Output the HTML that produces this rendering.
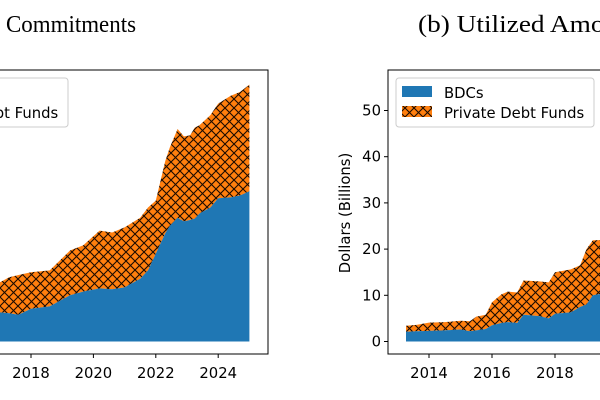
<!DOCTYPE html>
<html><head><meta charset="utf-8"><style>
html,body{margin:0;padding:0;background:#fff;}
svg{display:block;}
text{font-family:"DejaVu Sans","Liberation Sans",sans-serif;}
.title{font-family:"Liberation Serif",serif;font-size:24px;fill:#000;}
.tick{font-size:14.8px;fill:#000;}
</style></head><body>
<svg id="chart" width="600" height="400" viewBox="0 0 600 400" xmlns="http://www.w3.org/2000/svg">
<defs>
<pattern id="hatch" patternUnits="userSpaceOnUse" width="9" height="9">
<rect width="9" height="9" fill="#ff7f0e"/>
<path d="M0,0L9,9M9,0L0,9M-1,8L1,10M8,-1L10,1M-1,1L1,-1M8,10L10,8" stroke="#1a0a00" stroke-width="1.1"/>
</pattern>
<clipPath id="clipL"><rect x="0" y="70" width="268" height="284"/></clipPath>
<clipPath id="clipR"><rect x="388" y="70" width="212" height="284"/></clipPath>
</defs>
<text class="title" x="6" y="32" textLength="130" lengthAdjust="spacingAndGlyphs">Commitments</text>
<text class="title" x="418" y="32" textLength="232" lengthAdjust="spacingAndGlyphs">(b) Utilized Amounts</text>
<g id="left"></g>
<g id="right"></g>
</svg>
<script>
// Left panel: commitments
const leftYears = [2016.5, 2017.0, 2017.3, 2017.6, 2018.0, 2018.6, 2019.25, 2019.67, 2020.2, 2020.6, 2021.0, 2021.5, 2021.75, 2022.0, 2022.3, 2022.45, 2022.7, 2022.9, 2023.1, 2023.25, 2023.4, 2023.75, 2024.0, 2024.4, 2024.7, 2025.0];
const leftBDC = [6.5, 6.3, 6.1, 5.8, 7.1, 7.6, 10.0, 10.8, 11.5, 11.3, 11.7, 13.6, 15.4, 19.0, 23.4, 25.0, 26.8, 26.0, 26.3, 26.6, 27.7, 29.0, 31.0, 31.2, 31.6, 32.5];
const leftTotal = [12.0, 12.8, 13.9, 14.4, 15.0, 15.4, 19.7, 20.8, 24.0, 23.6, 24.7, 26.8, 29.0, 30.5, 39.0, 42.0, 46.0, 44.4, 44.6, 46.3, 46.8, 49.0, 51.5, 53.2, 54.0, 55.6];
const leftTicks = [2016, 2018, 2020, 2022, 2024];
// Right panel: utilized amounts
const rightYears = [2013.27, 2013.6, 2014.0, 2014.5, 2015.0, 2015.3, 2015.5, 2015.8, 2016.0, 2016.3, 2016.5, 2016.8, 2017.0, 2017.5, 2017.8, 2018.0, 2018.5, 2018.8, 2019.0, 2019.2, 2019.6];
const rightBDC = [2.1, 2.2, 2.3, 2.4, 2.6, 2.2, 2.4, 2.7, 3.5, 4.0, 4.2, 4.0, 5.8, 5.5, 5.0, 6.0, 6.3, 7.5, 8.0, 10.0, 10.5];
const rightTotal = [3.4, 3.6, 4.1, 4.2, 4.5, 4.4, 5.4, 5.8, 8.5, 10.2, 10.8, 10.6, 13.2, 13.0, 12.8, 15.0, 15.6, 16.5, 20.0, 21.9, 22.0];
const rightXTicks = [2014, 2016, 2018, 2020];
const yTicks = [0, 10, 20, 30, 40, 50];

const NS = "http://www.w3.org/2000/svg";
function mk(tag, attrs, parent){const e=document.createElementNS(NS,tag);for(const k in attrs)e.setAttribute(k,attrs[k]);parent.appendChild(e);return e;}
const yScale = v => 341.5 - v*4.62;
const xL = yr => 31 + (yr-2018)*31.2;
const xR = yr => 429 + (yr-2014)*31.5;

function area(xs, top, bot, xf){
  let d = "";
  xs.forEach((yr,i)=>{d += (i?"L":"M")+xf(yr).toFixed(1)+","+yScale(top[i]).toFixed(1);});
  for(let i=xs.length-1;i>=0;i--){d += "L"+xf(xs[i]).toFixed(1)+","+yScale(bot?bot[i]:0).toFixed(1);}
  return d+"Z";
}

function panel(g, xs, bdc, total, xf, clip, box, xticks, showY){
  const pg = mk("g",{"clip-path":"url(#"+clip+")"},g);
  const a1 = mk("path",{d:area(xs,total,bdc,xf),fill:"url(#hatch)"},pg);
  
  
  const a2 = mk("path",{d:area(xs,bdc,null,xf),fill:"#1f77b4"},pg);
  
  
  const fr = mk("rect",{x:box[0],y:box[1],width:box[2]-box[0],height:box[3]-box[1],fill:"none",stroke:"#000","stroke-width":1},g);
  
  
  xticks.forEach(t=>{
    const x = xf(t);
    mk("line",{x1:x,x2:x,y1:box[3],y2:box[3]+4,stroke:"#000"},g);
    const tx = mk("text",{x:x,y:378,"text-anchor":"middle",class:"tick"},g);
    tx.textContent = t;
    
    
  });
  if(showY){
    yTicks.forEach(t=>{
      const y = yScale(t);
      mk("line",{x1:box[0]-4,x2:box[0],y1:y,y2:y,stroke:"#000"},g);
      const tx = mk("text",{x:box[0]-7,y:y+5,"text-anchor":"end",class:"tick"},g);
      tx.textContent = t;
      
      
    });
    const yl = mk("text",{x:0,y:0,transform:"translate(350,213) rotate(-90)","text-anchor":"middle",class:"tick"},g);
    yl.textContent = "Dollars (Billions)";
    
    
  }
}

function legend(g, lx){
  const lg = mk("g",{},g);
  
  
  mk("rect",{x:lx,y:78,width:198,height:49,rx:3,fill:"#fff",stroke:"#ccc","stroke-width":1},lg);
  mk("rect",{x:lx+6,y:86,width:30,height:11,fill:"#1f77b4"},lg);
  mk("rect",{x:lx+6,y:106,width:30,height:11,fill:"url(#hatch)"},lg);
  const t1 = mk("text",{x:lx+48,y:98,class:"tick"},lg);
  t1.textContent = "BDCs";
  
  
  const t2 = mk("text",{x:lx+48,y:118,class:"tick"},lg);
  t2.textContent = "Private Debt Funds";
  
  
}

const gL = document.getElementById("left");
panel(gL, leftYears, leftBDC, leftTotal, xL, "clipL", [-200,70,268,354], leftTicks, false);
legend(gL, -130);
const gR = document.getElementById("right");
panel(gR, rightYears, rightBDC, rightTotal, xR, "clipR", [388,70,860,354], rightXTicks, true);
legend(gR, 396);
</script>
</body></html>
